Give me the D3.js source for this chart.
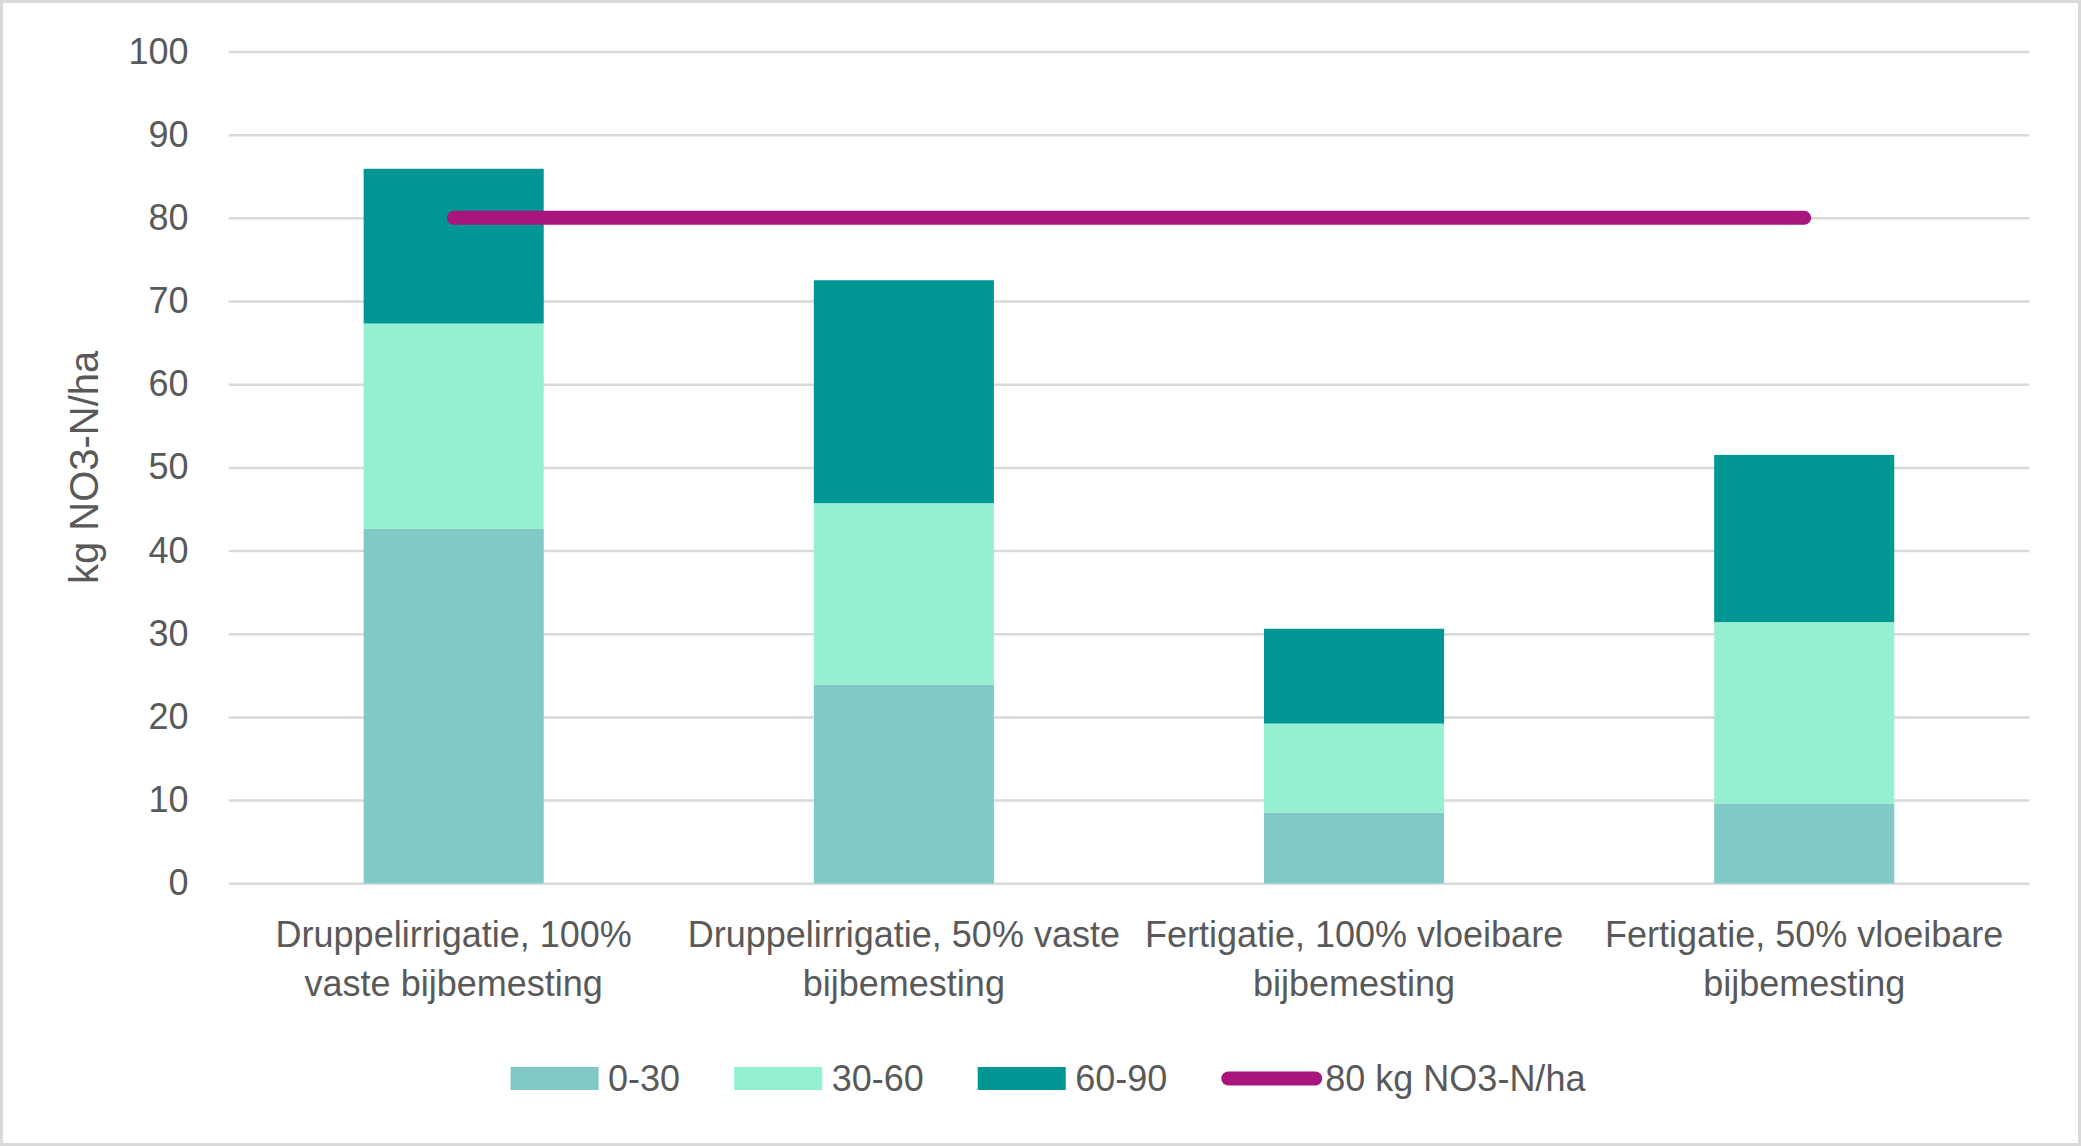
<!DOCTYPE html>
<html>
<head>
<meta charset="utf-8">
<script src="https://cdn.jsdelivr.net/npm/d3@7"></script>
<style>
  body { margin: 0; background: #ffffff; }
  text { font-family: "Liberation Sans", Arial, sans-serif; fill: #595959; }
</style>
</head>
<body>
<div id="wrapper"></div>
<script>
// data
const categories = [
  "Druppelirrigatie, 100% vaste bijbemesting",
  "Druppelirrigatie, 50% vaste bijbemesting",
  "Fertigatie, 100% vloeibare bijbemesting",
  "Fertigatie, 50% vloeibare bijbemesting",
]
// the labels wrap on two lines in the original
const categoryLines = [
  ["Druppelirrigatie, 100%", "vaste bijbemesting"],
  ["Druppelirrigatie, 50% vaste", "bijbemesting"],
  ["Fertigatie, 100% vloeibare", "bijbemesting"],
  ["Fertigatie, 50% vloeibare", "bijbemesting"],
]
const layerNames = ["0-30", "30-60", "60-90"]
const layer0to30 = [42.6, 23.9, 8.5, 9.6]
const layer30to60 = [24.7, 21.8, 10.7, 21.8]
const layer60to90 = [18.6, 26.8, 11.4, 20.1]
const normName = "80 kg NO3-N/ha"
const normValues = [80, 80, 80, 80]
const yTicks = [0, 10, 20, 30, 40, 50, 60, 70, 80, 90, 100]
const yTitle = "kg NO3-N/ha"

function drawChart() {
  const colors = {
    "0-30": "#80c9c6",
    "30-60": "#95f0d3",
    "60-90": "#009694",
    norm: "#a8167d",
  }

  // build rows for d3.stack
  const dataset = categories.map((c, i) => ({
    category: c,
    "0-30": layer0to30[i],
    "30-60": layer30to60[i],
    "60-90": layer60to90[i],
    norm: normValues[i],
  }))

  let dimensions = {
    width: 2081,
    height: 1146,
    margin: {
      top: 51.5,
      right: 51.7,
      bottom: 262.7,
      left: 228.6,
    },
  }
  dimensions.boundedWidth = dimensions.width
      - dimensions.margin.left
      - dimensions.margin.right
  dimensions.boundedHeight = dimensions.height
      - dimensions.margin.top
      - dimensions.margin.bottom

  const wrapper = d3.select("#wrapper")
    .append("svg")
      .attr("width", dimensions.width)
      .attr("height", dimensions.height)

  // chart border
  wrapper.append("rect")
      .attr("x", 1.5)
      .attr("y", 1.5)
      .attr("width", dimensions.width - 3)
      .attr("height", dimensions.height - 3)
      .attr("fill", "#ffffff")
      .attr("stroke", "#d9d9d9")
      .attr("stroke-width", 3)

  const bounds = wrapper.append("g")
      .attr("transform", `translate(${dimensions.margin.left},${dimensions.margin.top})`)

  const xScale = d3.scaleBand()
      .domain(categories)
      .range([0, dimensions.boundedWidth])
      .paddingInner(0.6)
      .paddingOuter(0.3)

  const yScale = d3.scaleLinear()
      .domain([0, 100])
      .range([dimensions.boundedHeight, 0])

  // y axis with gridlines
  const yAxisGenerator = d3.axisLeft()
    .scale(yScale)
    .tickValues(yTicks)
    .tickSize(-dimensions.boundedWidth)
    .tickPadding(40)
  const yAxis = bounds.append("g")
    .call(yAxisGenerator)
  yAxis.select(".domain").remove()
  yAxis.selectAll("line")
      .attr("stroke", "#d9d9d9")
      .attr("stroke-width", 2.5)
  yAxis.selectAll("text")
      .attr("font-size", 36)
      .attr("fill", "#595959")
      .style("font-family", "'Liberation Sans', Arial, sans-serif")

  // stacked bars
  const series = d3.stack().keys(layerNames)(dataset)
  bounds.append("g")
    .selectAll("g")
    .data(series)
    .join("g")
      .attr("fill", d => colors[d.key])
    .selectAll("rect")
    .data(d => d)
    .join("rect")
      .attr("x", d => xScale(d.data.category))
      .attr("width", xScale.bandwidth())
      .attr("y", d => yScale(d[1]))
      .attr("height", d => yScale(d[0]) - yScale(d[1]))

  // norm line through the category centres
  const lineGenerator = d3.line()
    .x(d => xScale(d.category) + xScale.bandwidth() / 2)
    .y(d => yScale(d.norm))
  bounds.append("path")
      .attr("d", lineGenerator(dataset))
      .attr("fill", "none")
      .attr("stroke", colors.norm)
      .attr("stroke-width", 14)
      .attr("stroke-linecap", "round")

  // category labels, two lines each
  const xLabels = bounds.append("g")
    .selectAll("text")
    .data(categories)
    .join("text")
      .attr("x", d => xScale(d) + xScale.bandwidth() / 2)
      .attr("y", dimensions.boundedHeight + 64)
      .attr("text-anchor", "middle")
      .attr("font-size", 36)
  xLabels.selectAll("tspan")
    .data((d, i) => categoryLines[i])
    .join("tspan")
      .attr("x", function() { return this.parentNode.getAttribute("x") })
      .attr("dy", (d, i) => i === 0 ? 0 : 49)
      .text(d => d)

  // y axis title
  wrapper.append("text")
      .attr("transform", `translate(98,${dimensions.margin.top + dimensions.boundedHeight / 2}) rotate(-90)`)
      .attr("text-anchor", "middle")
      .attr("font-size", 40)
      .text(yTitle)

  // legend
  const legendItems = layerNames.map(n => ({ name: n, type: "box", color: colors[n] }))
    .concat([{ name: normName, type: "line", color: colors.norm }])
  const legendY = 1078.5
  const legend = wrapper.append("g")
  let cursor = 0
  legendItems.forEach(item => {
    const g = legend.append("g").attr("transform", `translate(${cursor},0)`)
    let symbolWidth
    if (item.type === "box") {
      symbolWidth = 88
      g.append("rect")
          .attr("x", 0)
          .attr("y", legendY - 11.5)
          .attr("width", 88)
          .attr("height", 23)
          .attr("fill", item.color)
      cursor += symbolWidth + 9.5
    } else {
      symbolWidth = 101
      g.append("line")
          .attr("x1", 7)
          .attr("x2", symbolWidth - 7)
          .attr("y1", legendY)
          .attr("y2", legendY)
          .attr("stroke", item.color)
          .attr("stroke-width", 14)
          .attr("stroke-linecap", "round")
      cursor += symbolWidth + 3
    }
    const t = legend.append("text")
        .attr("x", cursor)
        .attr("y", legendY)
        .attr("dy", "0.35em")
        .attr("font-size", 36)
        .text(item.name)
    cursor += t.node().getComputedTextLength() + 54
  })
  const legendWidth = cursor - 54
  legend.attr("transform", `translate(${1048 - legendWidth / 2},0)`)
}

drawChart()
</script>
</body>
</html>
